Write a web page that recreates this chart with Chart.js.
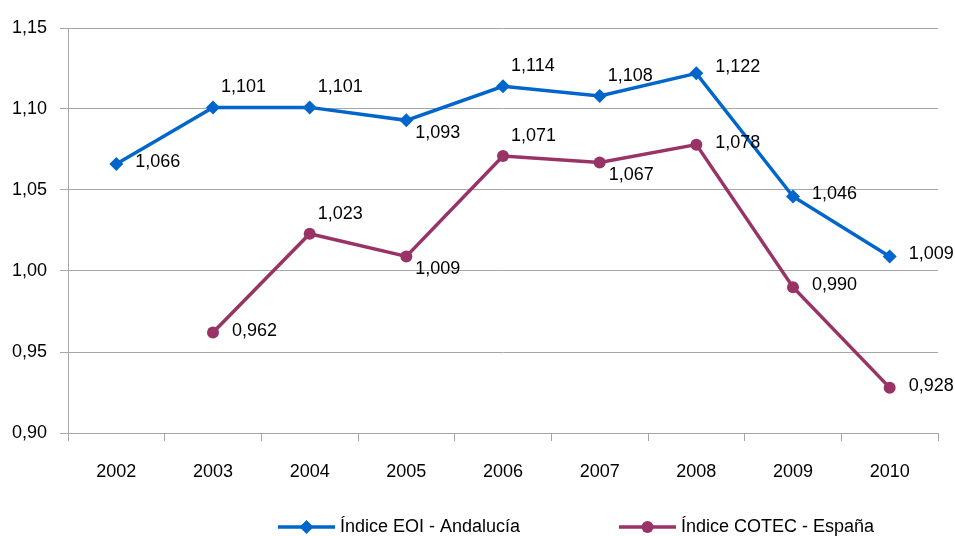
<!DOCTYPE html>
<html>
<head>
<meta charset="utf-8">
<script src="https://cdn.jsdelivr.net/npm/chart.js@4/dist/chart.umd.min.js"></script>
<style>
  html, body { margin:0; padding:0; background:#fff; }
  #c { display:block; }
</style>
</head>
<body>
<canvas id="c" width="955" height="536"></canvas>
<script>
/* ---------- data ---------- */
const years      = ['2002','2003','2004','2005','2006','2007','2008','2009','2010'];
const eoiValues  = [1.066, 1.101, 1.101, 1.093, 1.114, 1.108, 1.122, 1.046, 1.009];
const cotecValues= [null,  0.962, 1.023, 1.009, 1.071, 1.067, 1.078, 0.990, 0.928];
const yTicks     = [0.90, 0.95, 1.00, 1.05, 1.10, 1.15];
const seriesNames = ['Índice EOI - Andalucía', 'Índice COTEC - España'];

/* where each value label sits relative to its point */
const eoiLabelPos   = ['r','ar','ar','br','ar','ar','ur','r','r'];
const cotecLabelPos = ['', 'r','ar','br','ar','br','r','r','r'];

/* ---------- style ---------- */
const BLUE   = '#0066cc';
const PURPLE = '#993366';
const GRID   = '#a6a6a6';
const FONT   = '"Liberation Sans", Arial, sans-serif';
const comma  = v => v.toFixed(2).replace('.', ',');
const comma3 = v => v.toFixed(3).replace('.', ',');

const OFFS = { r:[19,-2], ur:[19,-6], ar:[8,-20], br:[9,13] };

/* ---------- value labels ---------- */
const valueLabels = {
  id:'valueLabels',
  afterDatasetsDraw(chart){
    const ctx = chart.ctx;
    const posSets = [eoiLabelPos, cotecLabelPos];
    ctx.save();
    ctx.font = '18px ' + FONT;
    ctx.fillStyle = '#000';
    ctx.textAlign = 'left';
    ctx.textBaseline = 'middle';
    chart.data.datasets.forEach((ds, di) => {
      const meta = chart.getDatasetMeta(di);
      ds.data.forEach((v, i) => {
        if (v == null) return;
        const pt = meta.data[i];
        const [dx, dy] = OFFS[posSets[di][i]] || OFFS.r;
        ctx.fillText(comma3(v), pt.x + dx, pt.y + dy);
      });
    });
    ctx.restore();
  }
};

/* ---------- legend (line + marker + text) ---------- */
const bottomLegend = {
  id:'bottomLegend',
  afterDraw(chart){
    const ctx = chart.ctx;
    const y = 527;
    const items = [
      { x:278, color:BLUE,   marker:'diamond', text:seriesNames[0] },
      { x:619, color:PURPLE, marker:'circle',  text:seriesNames[1] }
    ];
    ctx.save();
    items.forEach(it => {
      ctx.strokeStyle = it.color;
      ctx.lineWidth = 3.5;
      ctx.beginPath();
      ctx.moveTo(it.x, y); ctx.lineTo(it.x + 57, y);
      ctx.stroke();
      ctx.fillStyle = it.color;
      const cx = it.x + 28.5;
      ctx.beginPath();
      if (it.marker === 'diamond') {
        ctx.moveTo(cx, y-7); ctx.lineTo(cx+7, y); ctx.lineTo(cx, y+7); ctx.lineTo(cx-7, y);
        ctx.closePath();
      } else {
        ctx.arc(cx, y, 6, 0, Math.PI*2);
      }
      ctx.fill();
      ctx.font = '18px ' + FONT;
      ctx.fillStyle = '#000';
      ctx.textAlign = 'left';
      ctx.textBaseline = 'middle';
      ctx.fillText(it.text, it.x + 62, y);
    });
    ctx.restore();
  }
};

/* ---------- chart ---------- */
new Chart(document.getElementById('c'), {
  type:'line',
  data:{
    labels: years,
    datasets:[
      { label:seriesNames[0], data:eoiValues, borderColor:BLUE, backgroundColor:BLUE,
        borderWidth:3.5, pointStyle:'rectRot', pointRadius:7, pointBorderWidth:0, tension:0 },
      { label:seriesNames[1], data:cotecValues, borderColor:PURPLE, backgroundColor:PURPLE,
        borderWidth:3.5, pointStyle:'circle', pointRadius:6, pointBorderWidth:0, tension:0 }
    ]
  },
  options:{
    responsive:false,
    animation:false,
    layout:{ padding:{ top:28, right:17, bottom:53, left:0 } },
    plugins:{ legend:{ display:false }, tooltip:{ enabled:false } },
    scales:{
      y:{
        min:yTicks[0], max:yTicks[yTicks.length-1],
        afterBuildTicks: s => { s.ticks = yTicks.map(v => ({ value:v })); },
        afterFit: s => { s.width = 68; },
        ticks:{ callback: v => comma(v), font:{ size:18, family:FONT }, color:'#000', padding:13 },
        grid:{ color:GRID, lineWidth:1, tickLength:8 },
        border:{ color:GRID }
      },
      x:{
        offset:true,
        afterFit: s => { s.height = 50; },
        ticks:{ font:{ size:18, family:FONT }, color:'#000', padding:20 },
        grid:{ offset:true, drawOnChartArea:false, color:GRID, tickLength:8 },
        border:{ color:GRID }
      }
    }
  },
  plugins:[valueLabels, bottomLegend]
});
</script>
</body>
</html>
